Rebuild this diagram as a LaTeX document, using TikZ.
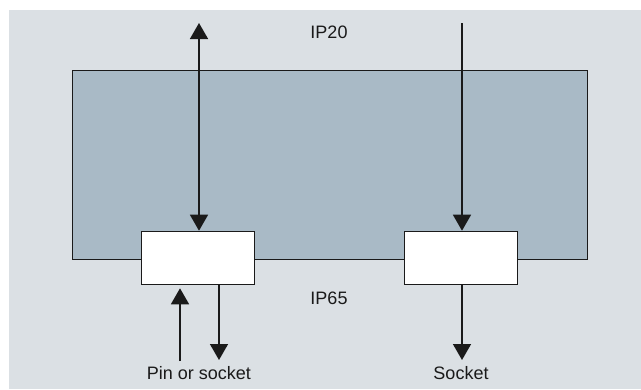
\documentclass[tikz,border=0pt]{standalone}
\usepackage{fontspec}
\setmainfont{Liberation Sans}
\usetikzlibrary{arrows.meta,calc}
\definecolor{bgray}{HTML}{DBE0E4}
\definecolor{panel}{HTML}{A9BAC6}
\definecolor{ink}{HTML}{1A1A1A}
\tikzset{
  conn/.style={line width=1.5pt,draw=ink,-{Triangle[width=18pt,length=16pt]}},
  conn2/.style={line width=1.5pt,draw=ink,{Triangle[width=18pt,length=16pt]}-{Triangle[width=18pt,length=16pt]}},
  plug/.style={draw=ink,line width=1.6pt,fill=white,minimum width=113pt,minimum height=53pt,inner sep=0pt},
  lbl/.style={text=ink,font=\fontsize{18}{20}\selectfont,inner sep=0pt},
}
\begin{document}
\begin{tikzpicture}[x=1pt,y=-1pt]
\useasboundingbox (0,0) rectangle (641,389);
\fill[bgray] (9,10) rectangle (641,389);
\node[draw=ink,line width=0.8pt,fill=panel,minimum width=515pt,minimum height=189pt,inner sep=0pt] (panel) at (330,164.5) {};
\node[plug] (lbox) at (198,258) {};
\node[plug] (rbox) at (461,258) {};
\node[lbl] (ip20) at (329,32) {IP20};
\node[lbl] (ip65) at (329,298) {IP65};
\node[lbl] (pin) at (199,373) {Pin or socket};
\node[lbl] (sock) at (461,373) {Socket};
\coordinate (ltop) at (199,23);
\coordinate (rtop) at (462,23);
\coordinate (lup) at (180,361);
\coordinate (ldown) at (219,360);
\coordinate (rdown) at (462,360);
\draw[conn2] (ltop) -- (lbox.north -| ltop);
\draw[conn] (rtop) -- (rbox.north -| rtop);
\draw[conn] (lup) -- ($(lbox.south -| lup)+(0,3)$);
\draw[conn] (lbox.south -| ldown) -- (ldown);
\draw[conn] (rbox.south -| rdown) -- (rdown);
\end{tikzpicture}
\end{document}
